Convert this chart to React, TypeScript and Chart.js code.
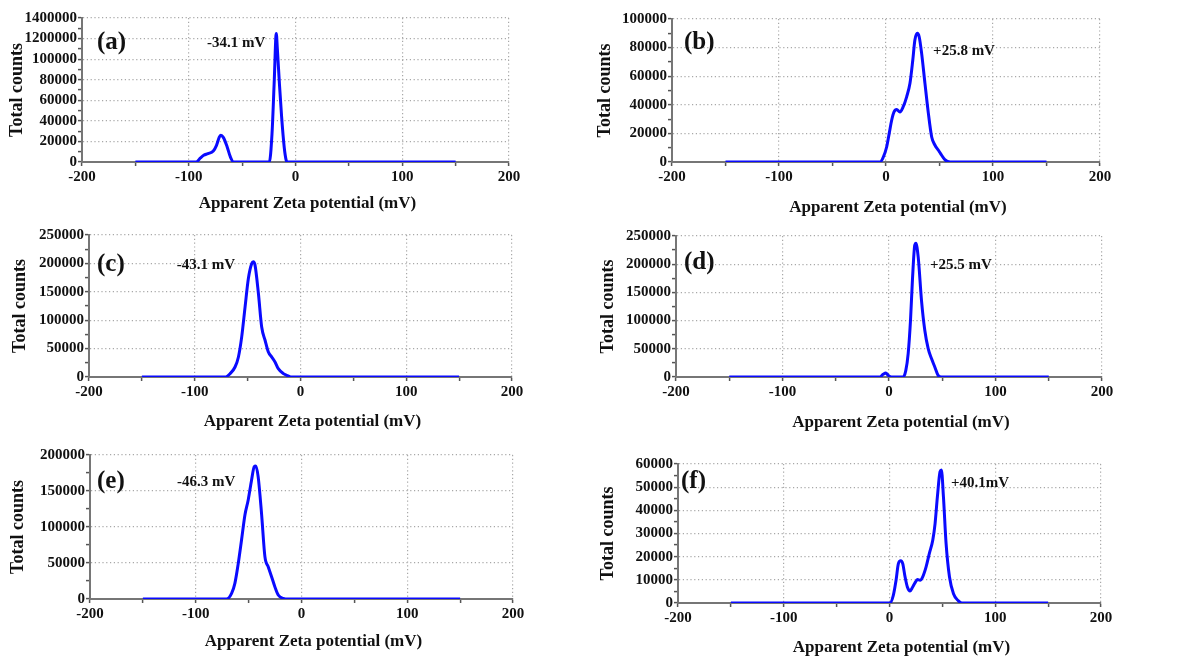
import React, { useEffect, useRef } from 'react';
import { Chart, registerables } from 'chart.js';

Chart.register(...registerables);

const SERIF = '"Liberation Serif", "Times New Roman", serif';

// Shared x-axis labels (mV), one per 100 mV major tick
const X_TICK_LABELS = ['-200', '-100', '0', '100', '200'];

// (a) sample
const mvA = [-150, -93, -89, -86, -82, -77, -74, -71.5, -70, -67.5, -64, -61, -58, -24.5, -22, -20, -18, -17, -15, -13, -10.6, -8.7, -7.5, 150];
const countsA = [0, 0, 4000, 6500, 8100, 10700, 16200, 24000, 26000, 23700, 14600, 4900, 0, 0, 27600, 76300, 125000, 110000, 75000, 43800, 14600, 1600, 0, 0];
const yTicksA = ['0', '20000', '40000', '60000', '80000', '100000', '1200000', '1400000'];

// (b) sample
const mvB = [-150, -5.5, -2.5, 0.6, 3, 5.3, 7.5, 10, 13, 16, 19.3, 22.4, 25, 27, 29.3, 31, 33.3, 36.4, 39.6, 42.7, 45.8, 49, 52, 55, 60, 150];
const countsB = [0, 0, 3500, 10500, 20000, 29200, 35000, 36700, 35000, 38500, 45600, 55000, 71000, 85300, 90000, 87600, 76000, 55000, 34000, 17500, 11700, 8200, 4700, 1600, 0, 0];
const yTicksB = ['0', '20000', '40000', '60000', '80000', '100000'];

// (c) sample
const mvC = [-150, -71.3, -66.6, -61.9, -58.7, -55.6, -52.4, -49.3, -46.1, -44.6, -43, -39.8, -36.7, -33.5, -30.4, -27.3, -24.1, -21, -16.2, -11.5, -8.4, 150];
const countsC = [0, 0, 5900, 17600, 35300, 70600, 123500, 173500, 200000, 203000, 197000, 147000, 88000, 64700, 44100, 35300, 26500, 14700, 5900, 1800, 0, 0];
const yTicksC = ['0', '50000', '100000', '150000', '200000', '250000'];

// (d) sample
const mvD = [-150, -8.6, -5.5, -3, -0.8, 2.3, 13.3, 15.8, 18, 20.2, 22, 24.2, 25.2, 27.4, 30.5, 33.6, 36.8, 39.9, 43, 46.1, 49.3, 150];
const countsD = [0, 0, 4700, 7100, 3000, 0, 0, 11800, 41500, 100700, 171800, 234000, 237000, 213000, 136000, 83000, 50400, 32600, 17800, 3000, 0, 0];
const yTicksD = ['0', '50000', '100000', '150000', '200000', '250000'];

// (e) sample
const mvE = [-150, -70.9, -66.1, -63, -59.8, -56.7, -53.5, -50.4, -47.2, -44.7, -43.2, -41, -37.8, -34.6, -31.5, -28.3, -25.2, -22, -17.3, -12.6, 150];
const countsE = [0, 0, 7900, 21800, 49500, 82000, 116700, 137500, 165300, 183800, 184700, 170000, 119000, 58800, 44900, 31000, 17100, 5600, 900, 0, 0];
const yTicksE = ['0', '50000', '100000', '150000', '200000'];

// (f) sample
const mvF = [-150, 0.5, 3.6, 6.2, 8.4, 10.6, 12.5, 14.7, 16.9, 19.4, 21.9, 24.1, 26.4, 28.9, 31.4, 34.6, 37.7, 40.9, 43.1, 45.3, 47.8, 49.1, 51, 53.5, 56.7, 60.5, 65.2, 68.4, 150];
const countsF = [0, 0, 3300, 9800, 17000, 18200, 17000, 11300, 6900, 5200, 6900, 8700, 10100, 9800, 11300, 15600, 21400, 27100, 34300, 45900, 56700, 57400, 45900, 25700, 11300, 4000, 900, 0, 0];
const yTicksF = ['0', '10000', '20000', '30000', '40000', '50000', '60000'];

// Mean zeta potential labels
const notes = ['-34.1 mV', '+25.8 mV', '-43.1 mV', '+25.5 mV', '-46.3 mV', '+40.1mV'];
const tags = ['(a)', '(b)', '(c)', '(d)', '(e)', '(f)'];

const X_TITLE = 'Apparent Zeta potential (mV)';
const Y_TITLE = 'Total counts';

type PanelSpec = {
  mv: number[];
  counts: number[];
  yMax: number;
  yStep: number;
  yLabels: string[];
  tag: string;
  note: string;
  noteAt: [number, number]; // data coords (mV, counts) of the note's left/middle
  box: [number, number, number, number]; // plot area on the page: left, top, right, bottom
  tagOff: [number, number];
  yTitleOff: number;
  xTitleOff: number;
};

const panels: PanelSpec[] = [
  { mv: mvA, counts: countsA, yMax: 140000, yStep: 20000, yLabels: yTicksA, tag: tags[0], note: notes[0], noteAt: [-83, 115700], box: [82, 18, 509, 162], tagOff: [15, 25], yTitleOff: 65, xTitleOff: 42 },
  { mv: mvB, counts: countsB, yMax: 100000, yStep: 20000, yLabels: yTicksB, tag: tags[1], note: notes[1], noteAt: [44, 77600], box: [672, 19, 1100, 162], tagOff: [12, 24], yTitleOff: 67, xTitleOff: 46 },
  { mv: mvC, counts: countsC, yMax: 250000, yStep: 50000, yLabels: yTicksC, tag: tags[2], note: notes[2], noteAt: [-117, 197000], box: [89, 235, 512, 377], tagOff: [8, 30], yTitleOff: 69, xTitleOff: 45 },
  { mv: mvD, counts: countsD, yMax: 250000, yStep: 50000, yLabels: yTicksD, tag: tags[3], note: notes[3], noteAt: [38.5, 198600], box: [676, 236, 1102, 377], tagOff: [8, 27], yTitleOff: 68, xTitleOff: 46 },
  { mv: mvE, counts: countsE, yMax: 200000, yStep: 50000, yLabels: yTicksE, tag: tags[4], note: notes[4], noteAt: [-117.7, 162500], box: [90, 455, 513, 599], tagOff: [7, 27], yTitleOff: 72, xTitleOff: 43 },
  { mv: mvF, counts: countsF, yMax: 60000, yStep: 10000, yLabels: yTicksF, tag: tags[5], note: notes[5], noteAt: [58.2, 51800], box: [678, 464, 1101, 603], tagOff: [3, 18], yTitleOff: 70, xTitleOff: 45 },
];

const AXIS_W = 90;
const AXIS_H = 60;
const PAD_T = 12;
const PAD_R = 28;
const GRID = '#a8a8a8';
const AXIS = '#767676';
const INK = '#111111';

function ZetaPanel({ p }: { p: PanelSpec }) {
  const ref = useRef<HTMLCanvasElement>(null);
  const [x0, y0, x1, y1] = p.box;
  const width = x1 - x0 + AXIS_W + PAD_R;
  const height = y1 - y0 + PAD_T + AXIS_H;

  useEffect(() => {
    const textPlugin = {
      id: 'panelText',
      afterDraw(chart: any) {
        const { ctx, chartArea: a, scales } = chart;
        ctx.save();
        ctx.fillStyle = INK;
        // y title
        ctx.save();
        ctx.translate(a.left - p.yTitleOff, (a.top + a.bottom) / 2);
        ctx.rotate(-Math.PI / 2);
        ctx.font = `bold 18px ${SERIF}`;
        ctx.textAlign = 'center';
        ctx.textBaseline = 'middle';
        ctx.fillText(Y_TITLE, 0, 0);
        ctx.restore();
        // x title
        ctx.font = `bold 17px ${SERIF}`;
        ctx.textAlign = 'center';
        ctx.textBaseline = 'middle';
        ctx.fillText(X_TITLE, (a.left + a.right) / 2 + 12, a.bottom + p.xTitleOff);
        // panel tag
        ctx.font = `bold 25px ${SERIF}`;
        ctx.textAlign = 'left';
        ctx.fillText(p.tag, a.left + p.tagOff[0], a.top + p.tagOff[1]);
        // mean potential note
        ctx.font = `bold 15px ${SERIF}`;
        ctx.fillText(p.note, scales.x.getPixelForValue(p.noteAt[0]), scales.y.getPixelForValue(p.noteAt[1]));
        ctx.restore();
      },
    };

    const tickFont = { family: SERIF, size: 15, weight: 'bold' as const };

    const chart = new Chart(ref.current as HTMLCanvasElement, {
      type: 'line',
      data: {
        datasets: [
          {
            data: p.mv.map((v, i) => ({ x: v, y: p.counts[i] })),
            borderColor: '#0a0aff',
            borderWidth: 3,
            pointRadius: 0,
            fill: false,
            cubicInterpolationMode: 'monotone',
          },
        ],
      },
      options: {
        animation: false,
        responsive: false,
        events: [],
        layout: { padding: { left: 0, top: PAD_T, right: PAD_R, bottom: 0 } },
        plugins: { legend: { display: false }, tooltip: { enabled: false } },
        scales: {
          x: {
            type: 'linear',
            min: -200,
            max: 200,
            afterFit: (s: any) => {
              s.height = AXIS_H;
              s.paddingLeft = 0;
              s.paddingRight = 0;
            },
            ticks: {
              stepSize: 50,
              autoSkip: false,
              maxRotation: 0,
              padding: 2,
              color: INK,
              font: tickFont,
              callback: (v: any) => (Number(v) % 100 === 0 ? X_TICK_LABELS[(Number(v) + 200) / 100] : ''),
            },
            grid: {
              color: (c: any) => (c.tick && c.tick.value % 100 === 0 ? GRID : 'rgba(0,0,0,0)'),
              lineWidth: 1.2,
              drawTicks: true,
              tickLength: 4,
              tickColor: '#555555',
              tickWidth: 1.5,
            },
            border: { display: true, color: AXIS, width: 2, dash: [1.2, 2.6] },
          },
          y: {
            type: 'linear',
            min: 0,
            max: p.yMax,
            afterFit: (s: any) => {
              s.width = AXIS_W;
              s.paddingTop = 0;
              s.paddingBottom = 0;
            },
            ticks: {
              stepSize: p.yStep / 2,
              autoSkip: false,
              padding: 1,
              color: INK,
              font: tickFont,
              callback: (v: any) => (Number(v) % p.yStep === 0 ? p.yLabels[Number(v) / p.yStep] : ''),
            },
            grid: {
              color: (c: any) => (c.tick && c.tick.value % p.yStep === 0 ? GRID : 'rgba(0,0,0,0)'),
              lineWidth: 1.2,
              drawTicks: true,
              tickLength: 4,
              tickColor: '#555555',
              tickWidth: 1.5,
            },
            border: { display: true, color: AXIS, width: 2, dash: [1.2, 2.6] },
          },
        },
      },
      plugins: [textPlugin],
    } as any);
    return () => chart.destroy();
  }, [p]);

  return (
    <canvas
      ref={ref}
      width={width}
      height={height}
      style={{ position: 'absolute', left: x0 - AXIS_W, top: y0 - PAD_T, width, height }}
    />
  );
}

export default function App() {
  return (
    <div
      style={{
        position: 'absolute',
        left: 0,
        top: 0,
        width: 1185,
        height: 657,
        background: '#ffffff',
        overflow: 'hidden',
      }}
    >
      {panels.map((p, i) => (
        <ZetaPanel key={i} p={p} />
      ))}
    </div>
  );
}
